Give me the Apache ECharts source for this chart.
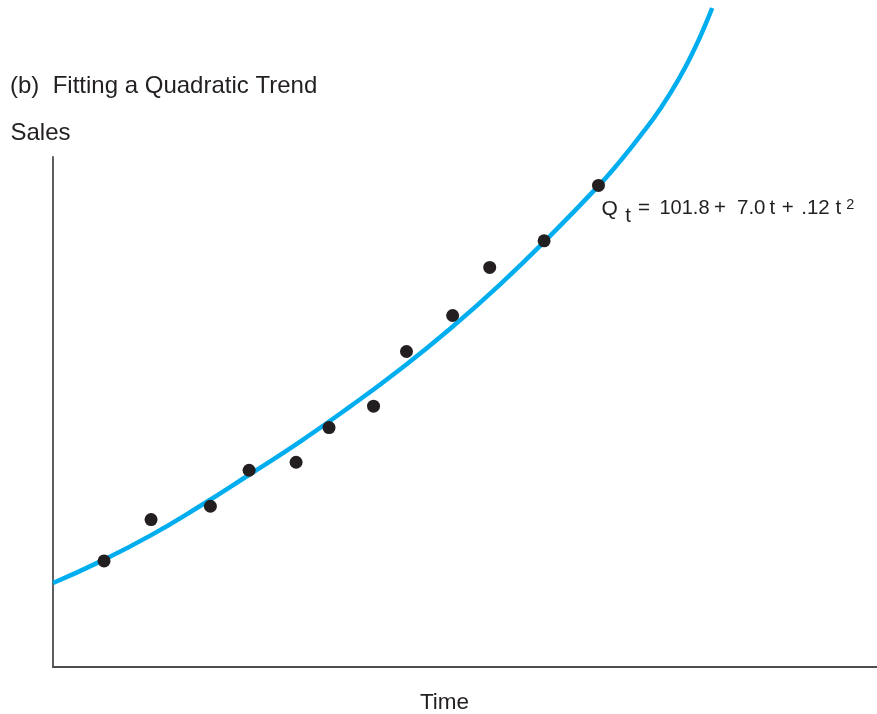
<!DOCTYPE html>
<html>
<head>
<meta charset="utf-8">
<style>
  html, body { margin: 0; padding: 0; background: #ffffff; }
  #chart { width: 877px; height: 714px; }
</style>
<script src="https://cdn.jsdelivr.net/npm/echarts@6/dist/echarts.min.js"></script>
</head>
<body>
<div id="chart"></div>
<script>
const obsTime  = [6.2, 11.9, 19.1, 23.8, 29.5, 33.5, 38.9, 42.9, 48.5, 53.0, 59.6, 66.2];
const obsSales = [15.9, 22.1, 24.1, 29.5, 30.7, 35.9, 39.1, 47.3, 52.7, 59.9, 63.9, 72.2];

// Fitted quadratic trend curve
const trendTime  = [0, 5.7, 11.8, 17.8, 23.9, 30.0, 36.0, 42.1, 48.2, 54.3, 60.3, 66.4, 68.8, 71.2, 73.7, 76.1, 77.9, 79.1, 80.0];
const trendSales = [12.6, 15.8, 19.7, 24.1, 28.9, 33.8, 39.0, 44.6, 50.7, 57.4, 64.6, 72.4, 75.8, 79.5, 83.7, 88.5, 92.8, 96.1, 98.8];

const titleText = '(b)  Fitting a Quadratic Trend';
const yAxisName = 'Sales';
const xAxisName = 'Time';

const chart = echarts.init(document.getElementById('chart'), null, { renderer: 'canvas' });

const ink = '#231F20';
const axisColor = '#4d4d4d';
const fontFamily = '"Liberation Sans", Arial, Helvetica, sans-serif';

function txt(text, x, y, size, align) {
  return {
    type: 'text', x: x, y: y, silent: true,
    style: {
      text: text,
      font: size + 'px ' + fontFamily,
      fill: ink,
      align: align || 'left',
      verticalAlign: 'middle'
    }
  };
}

const option = {
  animation: false,
  backgroundColor: '#ffffff',
  grid: [
    { left: 53, right: 0, top: 0, bottom: 47 },
    { left: 53, right: 0, top: 157, bottom: 47 }
  ],
  xAxis: [
    {
      type: 'value', gridIndex: 0, min: 0, max: 100,
      axisLine: { show: true, onZero: false, lineStyle: { color: axisColor, width: 1.8 } },
      axisTick: { show: false }, axisLabel: { show: false }, splitLine: { show: false }
    },
    {
      type: 'value', gridIndex: 1, min: 0, max: 100, show: false
    }
  ],
  yAxis: [
    {
      type: 'value', gridIndex: 0, min: 0, max: 100,
      axisLine: { show: false }, axisTick: { show: false },
      axisLabel: { show: false }, splitLine: { show: false }
    },
    {
      type: 'value', gridIndex: 1, min: 0, max: 100,
      axisLine: { show: true, onZero: false, lineStyle: { color: axisColor, width: 1.8 } },
      axisTick: { show: false }, axisLabel: { show: false }, splitLine: { show: false }
    }
  ],
  series: [
    {
      name: 'Quadratic trend',
      type: 'line',
      xAxisIndex: 0, yAxisIndex: 0,
      data: trendTime.map((t, i) => [t, trendSales[i]]),
      smooth: 0.5,
      symbol: 'none',
      lineStyle: { color: '#00AEEF', width: 4.5, cap: 'butt', join: 'round' },
      z: 2,
      silent: true
    },
    {
      name: 'Sales',
      type: 'scatter',
      xAxisIndex: 0, yAxisIndex: 0,
      data: obsTime.map((t, i) => [t, obsSales[i]]),
      symbol: 'circle',
      symbolSize: 13,
      itemStyle: { color: ink, opacity: 1 },
      z: 3,
      silent: true
    }
  ],
  graphic: [
    txt(titleText, 10, 86.5, 24),
    txt(yAxisName, 10.5, 133.5, 24),
    txt(xAxisName, 444.5, 702.5, 22.5, 'center'),
    // Equation: Q_t = 101.8 + 7.0 t + .12 t^2
    txt('Q', 601.5, 208.8, 21),
    txt('t', 625.3, 216, 20.5),
    txt('=', 638, 208.8, 20.5),
    txt('101.8', 659.5, 208.8, 20),
    txt('+', 714, 208.8, 20.5),
    txt('7.0', 737, 208.8, 20.5),
    txt('t', 769.6, 208.8, 20.5),
    txt('+', 781.7, 208.8, 20.5),
    txt('.12', 801.2, 208.8, 20.5),
    txt('t', 835.6, 208.8, 20.5),
    txt('2', 846.3, 204.5, 14.5)
  ]
};

chart.setOption(option);
</script>
</body>
</html>
